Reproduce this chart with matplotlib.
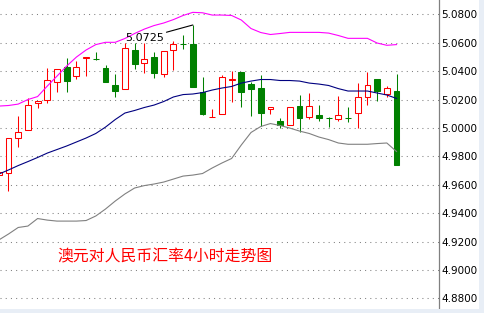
import matplotlib
matplotlib.use('Agg')
import matplotlib.pyplot as plt
from matplotlib.patches import Rectangle

# 4 hour AUD/CNY candles (open, high, low, close)
opens = [4.9670, 4.9680, 4.9931, 4.9983, 5.0173, 5.0196, 5.0321, 5.0427, 5.0363, 5.0495,
         5.0488, 5.0422, 5.0300, 5.0272, 5.0549, 5.0459, 5.0499, 5.0377, 5.0546, 5.0592,
         5.0591, 5.0251, 5.0077, 5.0096, 5.0341, 5.0394, 5.0309, 5.0281, 5.0131, 5.0049,
         5.0023, 5.0154, 5.0075, 5.0091, 5.0073, 5.0061, 5.0073, 5.0103, 5.0215, 5.0342,
         5.0237, 5.0260]
highs = [4.9700, 4.9927, 5.0084, 5.0208, 5.0189, 5.0420, 5.0413, 5.0490, 5.0473, 5.0497,
         5.0532, 5.0443, 5.0377, 5.0596, 5.0596, 5.0600, 5.0535, 5.0539, 5.0612, 5.0654,
         5.0725, 5.0356, 5.0133, 5.0370, 5.0401, 5.0396, 5.0325, 5.0373, 5.0145, 5.0072,
         5.0145, 5.0232, 5.0246, 5.0161, 5.0077, 5.0225, 5.0147, 5.0316, 5.0394, 5.0342,
         5.0295, 5.0380]
lows = [4.9660, 4.9558, 4.9868, 4.9983, 5.0142, 5.0177, 5.0255, 5.0255, 5.0342, 5.0368,
        5.0478, 5.0325, 5.0220, 5.0272, 5.0415, 5.0389, 5.0354, 5.0356, 5.0408, 5.0554,
        5.0290, 5.0091, 5.0075, 5.0096, 5.0185, 5.0149, 5.0084, 5.0013, 5.0098, 4.9997,
        5.0023, 4.9973, 5.0065, 5.0051, 5.0008, 5.0051, 5.0044, 5.0001, 5.0163, 5.0192,
        5.0218, 4.9741]
closes = [4.9690, 4.9927, 4.9969, 5.0159, 5.0189, 5.0337, 5.0413, 5.0332, 5.0427, 5.0497,
          5.0487, 5.0325, 5.0262, 5.0561, 5.0448, 5.0483, 5.0389, 5.0539, 5.0591, 5.0590,
          5.0290, 5.0098, 5.0079, 5.0356, 5.0343, 5.0255, 5.0274, 5.0107, 5.0145, 5.0020,
          5.0145, 5.0072, 5.0152, 5.0072, 5.0072, 5.0089, 5.0072, 5.0215, 5.0300, 5.0258,
          5.0279, 4.9741]

# bollinger bands
upper = [5.0154, 5.0158, 5.0168, 5.0200, 5.0221, 5.0295, 5.0365, 5.0436, 5.0499, 5.0549,
         5.0587, 5.0603, 5.0603, 5.0630, 5.0665, 5.0696, 5.0721, 5.0739, 5.0763, 5.0792,
         5.0814, 5.0811, 5.0795, 5.0795, 5.0792, 5.0760, 5.0700, 5.0672, 5.0658, 5.0665,
         5.0673, 5.0673, 5.0673, 5.0673, 5.0668, 5.0651, 5.0631, 5.0631, 5.0631, 5.0598,
         5.0582, 5.0587]
middle = [4.9675, 4.9704, 4.9735, 4.9763, 4.9792, 4.9823, 4.9848, 4.9873, 4.9901, 4.9929,
          4.9961, 5.0006, 5.0059, 5.0105, 5.0123, 5.0144, 5.0161, 5.0186, 5.0218, 5.0235,
          5.0239, 5.0249, 5.0267, 5.0281, 5.0292, 5.0316, 5.0330, 5.0341, 5.0341, 5.0334,
          5.0334, 5.0330, 5.0316, 5.0309, 5.0299, 5.0277, 5.0260, 5.0260, 5.0260, 5.0246,
          5.0232, 5.0208]
lower = [4.9211, 4.9253, 4.9299, 4.9309, 4.9362, 4.9351, 4.9344, 4.9344, 4.9344, 4.9348,
         4.9380, 4.9429, 4.9485, 4.9535, 4.9577, 4.9594, 4.9605, 4.9619, 4.9640, 4.9661,
         4.9668, 4.9679, 4.9718, 4.9753, 4.9785, 4.9880, 4.9968, 5.0010, 5.0031, 5.0017,
         4.9999, 4.9978, 4.9961, 4.9936, 4.9918, 4.9894, 4.9885, 4.9885, 4.9885, 4.9890,
         4.9894, 4.9834]

yticks = [4.88, 4.90, 4.92, 4.94, 4.96, 4.98, 5.00, 5.02, 5.04, 5.06, 5.08]
ytick_labels = ['%.4f' % v for v in yticks]
title = '澳元对人民币汇率4小时走势图'

RED = '#FF0000'
GREEN = '#008000'

fig = plt.figure(figsize=(4.85, 3.13), dpi=100)
ax = fig.add_axes([0, 5 / 313, 439.3 / 485, 308 / 313])

x = list(range(len(opens)))

#Draws the candles: red = up (hollow), green = down (filled)
for i in x:
    o, h, l, c = opens[i], highs[i], lows[i], closes[i]
    top = max(o, c)
    bot = min(o, c)
    body = max(top - bot, 0.00008)
    if c >= o:
        ax.vlines(i, top, h, color=RED, lw=0.75, zorder=2)
        ax.vlines(i, l, bot, color=RED, lw=0.75, zorder=2)
        ax.bar(i, body, 0.6, bottom=bot, facecolor='white', edgecolor=RED, lw=0.75, zorder=2)
    else:
        ax.vlines(i, l, h, color=GREEN, lw=0.75, zorder=2)
        ax.bar(i, body, 0.6, bottom=bot, facecolor=GREEN, edgecolor=GREEN, lw=0.75, zorder=2)

#Bollinger lines on top
ax.plot(x, upper, color='#FF00FF', lw=0.8, zorder=3)
ax.plot(x, middle, color='#000080', lw=0.8, zorder=3)
ax.plot(x, lower, color='#808080', lw=0.8, zorder=3)

#Marks the highest high
imax = highs.index(max(highs))
ax.annotate('%.4f' % highs[imax], xy=(imax, highs[imax]), xytext=(-68, -13),
            textcoords='offset pixels', ha='left', va='center', fontsize=8,
            arrowprops=dict(arrowstyle='-', color='black', lw=0.8, relpos=(1, 1),
                            shrinkA=0, shrinkB=0), zorder=4)

ax.set_xlim(0.124, 45.41)
ax.set_ylim(4.8732, 5.0901)

ax.yaxis.tick_right()
ax.set_yticks(yticks)
ax.set_yticklabels(ytick_labels)
ax.tick_params(axis='y', length=0, pad=1.7, labelsize=7.5, labelcolor='black')
ax.set_xticks([])
ax.grid(axis='y', color='#808080', linestyle=(0, (1, 4)), linewidth=0.75)

for s in ['top', 'left', 'bottom']:
    ax.spines[s].set_visible(False)
ax.spines['right'].set_color('#808080')
ax.spines['right'].set_linewidth(0.9)

fig.text(57.5 / 485, 1 - 256.5 / 313, title, color=RED, fontsize=11.4, ha='left', va='center',
         family=['Noto Sans CJK SC', 'DejaVu Sans'])

#Light strips at right and bottom edges
fig.patches.append(Rectangle((479 / 485, 0), 6 / 485, 1, transform=fig.transFigure,
                             facecolor='#E8EEF6', edgecolor='none'))
fig.patches.append(Rectangle((0, 0), 1, 4 / 313, transform=fig.transFigure,
                             facecolor='#E8EEF6', edgecolor='none'))

fig.savefig('out.png', dpi=100)
